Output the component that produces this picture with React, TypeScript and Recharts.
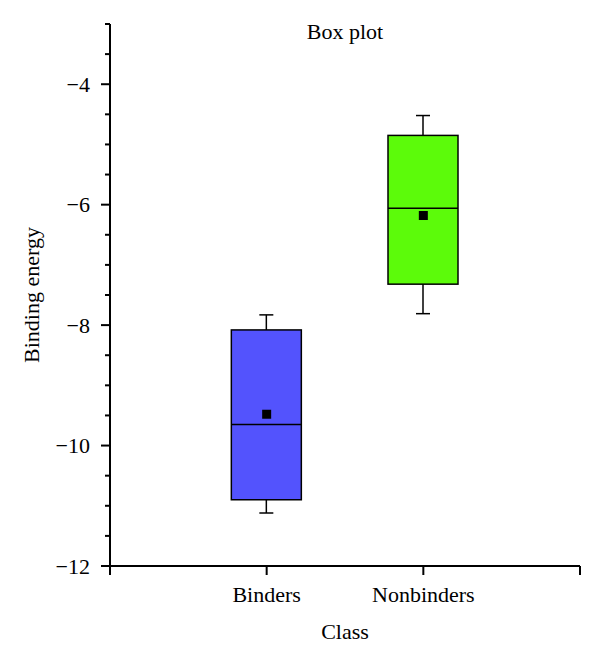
import {
  ComposedChart,
  Bar,
  Scatter,
  XAxis,
  YAxis,
} from 'recharts';

const classes = ['Binders', 'Nonbinders'];
const positions = [1, 2];
const whiskerLow = [-11.12, -7.81];
const q1 = [-10.9, -7.32];
const medians = [-9.65, -6.06];
const q3 = [-8.08, -4.85];
const whiskerHigh = [-7.83, -4.52];
const means = [-9.48, -6.18];
const fills = ['#5353fd', '#5cfb0a'];

const yTicks = [
  -12, -11.5, -11, -10.5, -10, -9.5, -9, -8.5, -8, -7.5, -7, -6.5, -6, -5.5, -5, -4.5, -4, -3.5, -3,
];
const xTicks = [0, 1, 2, 3];

const data = classes.map((name, i) => ({
  name,
  pos: positions[i],
  box: [q1[i], q3[i]],
  lo: whiskerLow[i],
  hi: whiskerHigh[i],
  q1: q1[i],
  q3: q3[i],
  median: medians[i],
  mean: means[i],
  fill: fills[i],
}));

const FONT = '"Liberation Serif", "DejaVu Serif", serif';
const FS = 22;
const Y_TICK_SIZE = 9;
const Y_TICK_MARGIN = 11;

// dibuja caja, bigotes y mediana a partir de la geometría que da la barra
const BoxShape = (props: any) => {
  const { x, y, width, height, payload } = props;
  const top = Math.min(y, y + height);
  const h = Math.abs(height);
  const pxPerUnit = h / (payload.q3 - payload.q1);
  const toY = (v: number) => top + (payload.q3 - v) * pxPerUnit;
  const cx = x + width / 2;
  const cap = 7;
  return (
    <g>
      <line x1={cx} x2={cx} y1={toY(payload.hi)} y2={toY(payload.lo)} stroke="#000" strokeWidth={1.5} />
      <line x1={cx - cap} x2={cx + cap} y1={toY(payload.hi)} y2={toY(payload.hi)} stroke="#000" strokeWidth={1.5} />
      <line x1={cx - cap} x2={cx + cap} y1={toY(payload.lo)} y2={toY(payload.lo)} stroke="#000" strokeWidth={1.5} />
      <rect x={x} y={top} width={width} height={h} fill={payload.fill} stroke="#000" strokeWidth={1.5} />
      <line x1={x} x2={x + width} y1={toY(payload.median)} y2={toY(payload.median)} stroke="#000" strokeWidth={1.5} />
    </g>
  );
};

const MeanShape = (props: any) => {
  const { cx, cy } = props;
  return <rect x={cx - 4.5} y={cy - 4.5} width={9} height={9} fill="#000" />;
};

const isMajor = (v: number) => Number.isInteger(v) && v % 2 === 0;

// tick del eje Y: marcas largas en los pares, cortas en el resto
const YTick = (props: any) => {
  const { x, y, payload } = props;
  const v = payload.value;
  const axisX = x + Y_TICK_SIZE + Y_TICK_MARGIN;
  const len = isMajor(v) ? 9 : 5;
  return (
    <g>
      <line x1={axisX - len} x2={axisX} y1={y} y2={y} stroke="#000" strokeWidth={2} />
      {isMajor(v) && (
        <text x={x} y={y} dy="0.355em" textAnchor="end" fill="#000" fontSize={FS} fontFamily={FONT}>
          {`\u2212${Math.abs(v)}`}
        </text>
      )}
    </g>
  );
};

const fmtX = (v: number) => {
  const i = positions.indexOf(v);
  return i >= 0 ? classes[i] : '';
};

export default function App() {
  return (
    <div style={{ position: 'absolute', left: 0, top: 0, width: 600, height: 662, background: '#fff', fontFamily: FONT }}>
      <ComposedChart
        width={600}
        height={662}
        data={data}
        margin={{ top: 24, right: 20, bottom: 36, left: 0 }}
      >
        <XAxis
          type="number"
          dataKey="pos"
          domain={[0, 3]}
          ticks={xTicks}
          tickFormatter={fmtX}
          axisLine={{ stroke: '#000', strokeWidth: 2 }}
          tickLine={{ stroke: '#000', strokeWidth: 2 }}
          tickSize={9}
          tickMargin={11}
          tick={{ fill: '#000', fontSize: FS, fontFamily: FONT }}
          height={60}
          label={{ value: 'Class', position: 'insideBottom', offset: -13, fill: '#000', fontSize: FS, fontFamily: FONT }}
        />
        <YAxis
          type="number"
          domain={[-12, -3]}
          ticks={yTicks}
          interval={0}
          axisLine={{ stroke: '#000', strokeWidth: 2 }}
          tickLine={false}
          tickSize={Y_TICK_SIZE}
          tickMargin={Y_TICK_MARGIN}
          tick={YTick}
          width={110}
          allowDataOverflow
          label={{ value: 'Binding energy', angle: -90, position: 'insideLeft', offset: 31, fill: '#000', fontSize: FS, fontFamily: FONT, style: { textAnchor: 'middle' } }}
        />
        <Bar dataKey="box" barSize={70} shape={BoxShape} isAnimationActive={false} />
        <Scatter dataKey="mean" shape={MeanShape} isAnimationActive={false} />
      </ComposedChart>
      <div
        style={{
          position: 'absolute',
          left: 110,
          width: 470,
          top: 19,
          textAlign: 'center',
          fontSize: FS,
          color: '#000',
        }}
      >
        Box plot
      </div>
    </div>
  );
}
